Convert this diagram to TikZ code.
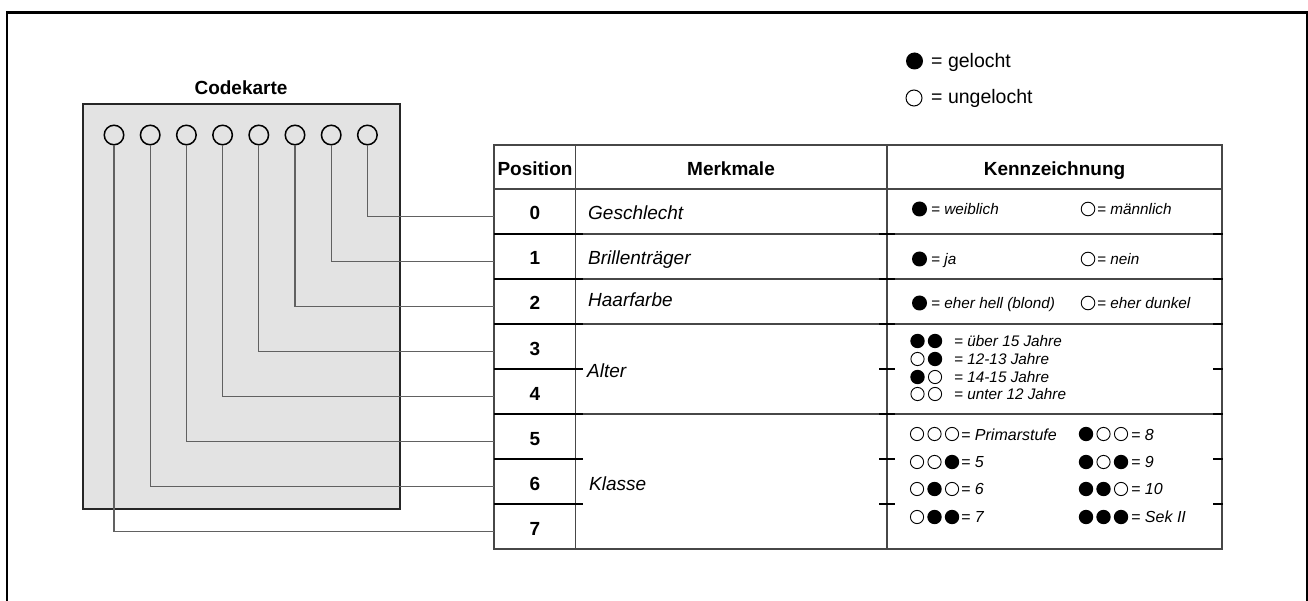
\documentclass[tikz,border=0pt]{standalone}
\usepackage{fontspec}
\setmainfont{Liberation Sans}
\newcommand\cpat[3]{%
  \foreach \c [count=\j from 0] in {#3} {%
    \ifnum\c=1
      \fill (#1+17.5*\j,#2) circle (7.2pt);
    \else
      \draw[holl] (#1+17.5*\j,#2) circle (6.6pt);
    \fi
  }%
}
\begin{document}
\begin{tikzpicture}[x=1pt,y=-1pt,
  framel/.style={line width=2.5pt},
  cardbox/.style={draw=black!85, line width=2pt, fill=black!11, minimum width=317pt, minimum height=405pt, anchor=north west, inner sep=0pt},
  hole/.style={circle, draw=black, line width=1.5pt, minimum size=19.5pt, inner sep=0pt},
  leadln/.style={draw=black!62, line width=1.1pt},
  gridln/.style={draw=black!72, line width=1.2pt},
  stubln/.style={draw=black, line width=1.3pt},
  hd/.style={font=\fontsize{19}{22}\selectfont\bfseries, inner sep=0pt, anchor=base},
  posnum/.style={font=\fontsize{19}{22}\selectfont\bfseries, inner sep=0pt, anchor=base, minimum width=81pt},
  mk/.style={font=\fontsize{19}{22}\selectfont\itshape, inner sep=0pt, anchor=base west},
  kz/.style={font=\fontsize{15.3}{18}\selectfont\itshape, inner sep=0pt, anchor=base west},
  kk/.style={font=\fontsize{16}{18}\selectfont\itshape, inner sep=0pt, anchor=base west},
  lg/.style={font=\fontsize{19.5}{22}\selectfont, inner sep=0pt, anchor=base west},
  holl/.style={draw=black, line width=0.9pt, fill=white},
]
\useasboundingbox (0,0) rectangle (1308,601);
% outer frame
\draw[framel] (7,603) -- (7,12.3) -- (1307,12.3) -- (1307,603);

% legend
\fill (914.5,61) circle (8.5pt);
\node[lg] (lg1) at (931,68) {= gelocht};
\draw[line width=1pt] (914,98) circle (8pt);
\node[lg] (lg2) at (931,103.5) {= ungelocht};

% card
\node[hd] (title) at (241,95) {Codekarte};
\node[cardbox] (card) at (82,103) {};

% table grid
\draw[gridln] (494,145) rectangle (1222,549);
\draw[gridln] (494,189) -- (1222,189);
\draw[gridln] (575.7,145) -- (575.7,549);
\draw[gridln] (887,145) -- (887,549);
\foreach \yy in {234,279,324,414} { \draw[gridln] (494,\yy) -- (1222,\yy); }
\foreach \yy in {234,279,324,369,414,459,504} {
  \draw[stubln] (494,\yy) -- (583,\yy);
  \draw[stubln] (879,\yy) -- (895,\yy);
  \draw[stubln] (1213,\yy) -- (1223,\yy);
}

% headers
\node[hd] (hpos) at (535,176) {Position};
\node[hd] (hmk) at (731,176) {Merkmale};
\node[hd] (hkz) at (1054.5,176) {Kennzeichnung};

% position numbers
\foreach \r in {0,...,7} { \node[posnum] (p\r) at (535,220+45*\r) {\r}; }

% holes and leads
\foreach \i in {0,...,7} { \node[hole] (h\i) at (114+36.2*\i,135) {}; }
\foreach \i in {0,...,7} {
  \pgfmathtruncatemacro\r{7-\i}
  \draw[leadln] (h\i.south) |- ([yshift=-3.3pt]p\r.west);
}

% Merkmale
\node[mk] (m0) at (588,220) {Geschlecht};
\node[mk] (m1) at (588,265) {Brillenträger};
\node[mk] (m2) at (588,306.5) {Haarfarbe};
\node[mk] (m3) at (587,377) {Alter};
\node[mk] (m4) at (589,490) {Klasse};

% Kennzeichnung rows 0-2
\fill (919.5,209) circle (7.5pt);
\node[kz] (k0a) at (931,215) {= weiblich};
\draw[holl] (1088,209) circle (6.8pt);
\node[kz] (k0b) at (1097,215) {= männlich};

\fill (919.5,259) circle (7.5pt);
\node[kz] (k1a) at (931,264.5) {= ja};
\draw[holl] (1088,259) circle (6.8pt);
\node[kz] (k1b) at (1097,264.5) {= nein};

\fill (919.5,303) circle (7.5pt);
\node[kz] (k2a) at (931,308.5) {= eher hell (blond)};
\draw[holl] (1088,303) circle (6.8pt);
\node[kz] (k2b) at (1097,308.5) {= eher dunkel};

% Alter
\cpat{917.5}{341}{1,1}
\node[kz] (a1) at (954,346) {= über 15 Jahre};
\cpat{917.5}{359}{0,1}
\node[kz] (a2) at (954,364) {= 12-13 Jahre};
\cpat{917.5}{377}{1,0}
\node[kz] (a3) at (954,382) {= 14-15 Jahre};
\cpat{917.5}{394}{0,0}
\node[kz] (a4) at (954,399) {= unter 12 Jahre};

% Klasse
\cpat{917}{434}{0,0,0}
\node[kk] (c1) at (961,440) {= Primarstufe};
\cpat{917}{462}{0,0,1}
\node[kk] (c2) at (961,467.5) {= 5};
\cpat{917}{489}{0,1,0}
\node[kk] (c3) at (961,494.5) {= 6};
\cpat{917}{517}{0,1,1}
\node[kk] (c4) at (961,522) {= 7};
\cpat{1086}{434}{1,0,0}
\node[kk] (c5) at (1131,440) {= 8};
\cpat{1086}{462}{1,0,1}
\node[kk] (c6) at (1131,467.5) {= 9};
\cpat{1086}{489}{1,1,0}
\node[kk] (c7) at (1131,494.5) {= 10};
\cpat{1086}{517}{1,1,1}
\node[kk] (c8) at (1131,522) {= Sek II};
\end{tikzpicture}
\end{document}
